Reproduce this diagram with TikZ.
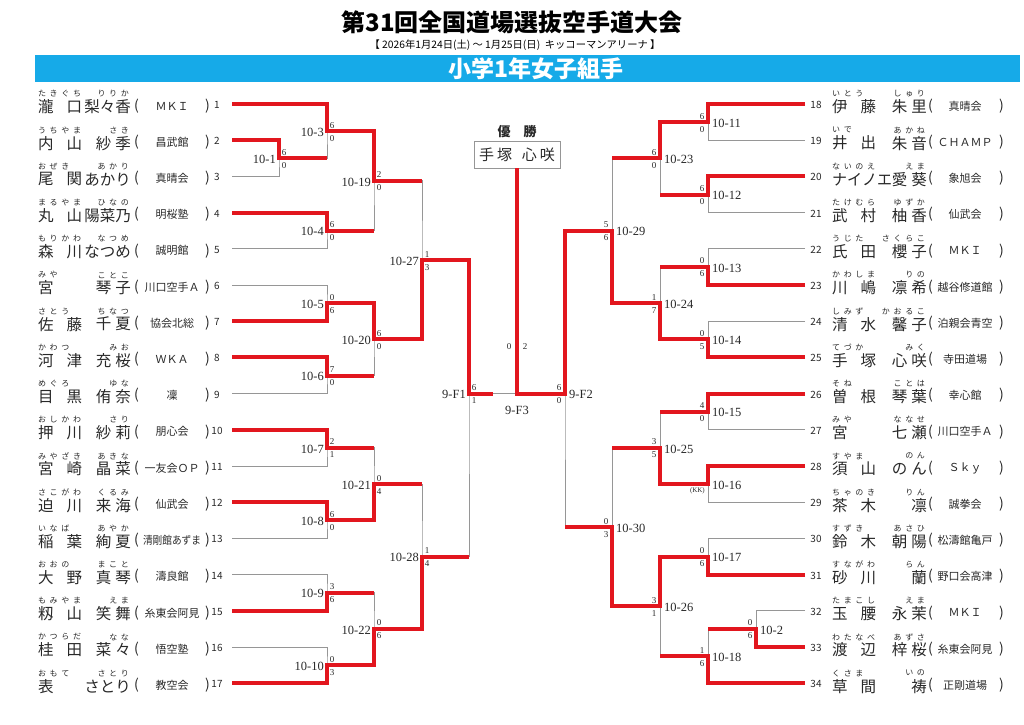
\documentclass[tikz,border=0pt]{standalone}
\usepackage{fontspec}
\usepackage{graphicx}
\setmainfont{Noto Sans CJK JP}
\newfontfamily\sernum{Liberation Serif}
\usetikzlibrary{calc}
\definecolor{wred}{RGB}{226,22,30}
\definecolor{lgray}{RGB}{150,150,150}
\definecolor{barblue}{RGB}{22,170,232}
\definecolor{txt}{RGB}{40,40,40}

\newcount\chcnt
\def\cntloop#1{\ifx#1\relax\else\advance\chcnt by 1\relax\expandafter\cntloop\fi}
\def\sprloop#1{\ifx#1\relax\else\hfil#1\expandafter\sprloop\fi}
\def\spr#1#2\relax{#1\sprloop#2\relax}
\def\fuloop#1{\ifx#1\relax\else\makebox[11.7pt]{#1}\expandafter\fuloop\fi}
\newcommand\furi[1]{\fuloop#1\relax}
\newcommand\surbox[1]{\chcnt=0 \cntloop#1\relax\ifnum\chcnt>2 \resizebox{60pt}{\height}{#1}\else\makebox[44pt][s]{\spr#1\relax}\fi}
\newcommand\givbox[1]{\chcnt=0 \cntloop#1\relax\ifnum\chcnt=2 \makebox[35pt][s]{\spr#1\relax}\else #1\fi}
\newcommand\clubfit[1]{\sbox0{#1}\ifdim\wd0>58pt\relax\resizebox{58pt}{\height}{#1}\else#1\fi}

\tikzset{
  nm/.style={inner sep=0pt, font=\fontsize{15.5}{15.5}\selectfont, text=txt},
  fu/.style={inner sep=0pt, font=\fontsize{8}{8}\selectfont, text=txt},
  pa/.style={inner sep=0pt, font=\fontsize{14}{14}\selectfont, text=txt},
  cl/.style={inner sep=0pt, font=\fontsize{11}{11}\selectfont, text=txt},
  no/.style={inner sep=0pt, font=\fontsize{10}{10}\selectfont, text=txt},
  ml/.style={inner sep=0pt, font=\sernum\fontsize{12.5}{12.5}\selectfont, text=txt},
  sc/.style={inner sep=0pt, font=\sernum\fontsize{9}{9}\selectfont, text=txt},
  gl/.style={draw=lgray, line width=0.9pt},
  win/.style={draw=wred, line width=4pt}
}

\newcommand\PL[6]{%
  \pgfmathsetmacro\py{104+(#1-1)*36.2}%
  \node[nm,anchor=west] (s#1) at (38,\py+3) {\surbox{#2}};
  \node[nm,anchor=east] (g#1) at (131,\py+3) {\givbox{#3}};
  \node[fu,anchor=west] (fs#1) at (36,\py-10) {\furi{#4}};
  \node[fu,anchor=east] (fg#1) at (131,\py-10) {\furi{#5}};
  \node[pa] (lp#1) at (136.5,\py+2) {(};
  \node[cl] (c#1) at (172,\py+2) {\clubfit{#6}};
  \node[pa] (rp#1) at (207.5,\py+2) {)};
  \node[no] (n#1) at (217,\py+1) {#1};
  \coordinate (p#1) at (232,\py);
}
\newcommand\PR[6]{%
  \pgfmathsetmacro\py{104+(#1-18)*36.2}%
  \node[nm,anchor=west] (s#1) at (832,\py+3) {\surbox{#2}};
  \node[nm,anchor=east] (g#1) at (927,\py+3) {\givbox{#3}};
  \node[fu,anchor=west] (fs#1) at (830,\py-10) {\furi{#4}};
  \node[fu,anchor=east] (fg#1) at (927,\py-10) {\furi{#5}};
  \node[pa] (lp#1) at (930.5,\py+2) {(};
  \node[cl] (c#1) at (965,\py+2) {\clubfit{#6}};
  \node[pa] (rp#1) at (1001.5,\py+2) {)};
  \node[no] (n#1) at (816,\py+1) {#1};
  \coordinate (p#1) at (805,\py);
}
\newcommand\ML[6]{%
  \coordinate (#1) at (#3,#4);
  \node[ml,anchor=east] (#1l) at (#3-3,#4+1) {#2};
  \node[sc] (#1t) at (#3+5,#4-6) {#5};
  \node[sc] (#1b) at (#3+5,#4+7) {#6};
}
\newcommand\MR[6]{%
  \coordinate (#1) at (#3,#4);
  \node[ml,anchor=west] (#1l) at (#3+4,#4+1) {#2};
  \node[sc] (#1t) at (#3-6,#4-6) {#5};
  \node[sc] (#1b) at (#3-6,#4+7) {#6};
}

\begin{document}
\begin{tikzpicture}[x=1pt,y=-1pt]
\useasboundingbox (0,0) rectangle (1024,724);

% header
\node[font=\bfseries\fontsize{24}{24}\selectfont, text=black] (title) at (512,22) {第31回全国道場選抜空手道大会};
\node[font=\fontsize{10.3}{10.3}\selectfont, text=black] (sub) at (515,45) {【 2026年1月24日(土) ～ 1月25日(日)\ \ キッコーマンアリーナ 】};
\fill[barblue] (35,55) rectangle (1020,82);
\node[text=white, font=\bfseries\fontsize{23}{23}\selectfont] (cat) at (536,69) {小学1年女子組手};

% players left
\PL{1}{瀧口}{梨々香}{たきぐち}{りりか}{ＭＫＩ}
\PL{2}{内山}{紗季}{うちやま}{さき}{昌武館}
\PL{3}{尾関}{あかり}{おぜき}{あかり}{真晴会}
\PL{4}{丸山}{陽菜乃}{まるやま}{ひなの}{明桜塾}
\PL{5}{森川}{なつめ}{もりかわ}{なつめ}{誠明館}
\PL{6}{宮}{琴子}{みや}{ことこ}{川口空手Ａ}
\PL{7}{佐藤}{千夏}{さとう}{ちなつ}{協会北総}
\PL{8}{河津}{充桜}{かわつ}{みお}{ＷＫＡ}
\PL{9}{目黒}{侑奈}{めぐろ}{ゆな}{凜}
\PL{10}{押川}{紗莉}{おしかわ}{さり}{朋心会}
\PL{11}{宮崎}{晶菜}{みやざき}{あきな}{一友会ＯＰ}
\PL{12}{迫川}{来海}{さこがわ}{くるみ}{仙武会}
\PL{13}{稲葉}{絢夏}{いなば}{あやか}{清剛館あずま}
\PL{14}{大野}{真琴}{おおの}{まこと}{濤良館}
\PL{15}{籾山}{笑舞}{もみやま}{えま}{糸東会阿見}
\PL{16}{桂田}{菜々}{かつらだ}{なな}{悟空塾}
\PL{17}{表}{さとり}{おもて}{さとり}{教空会}
% players right
\PR{18}{伊藤}{朱里}{いとう}{しゅり}{真晴会}
\PR{19}{井出}{朱音}{いで}{あかね}{ＣＨＡＭＰ}
\PR{20}{ナイノエ}{愛葵}{ないのえ}{えま}{象旭会}
\PR{21}{武村}{柚香}{たけむら}{ゆずか}{仙武会}
\PR{22}{氏田}{櫻子}{うじた}{さくらこ}{ＭＫＩ}
\PR{23}{川嶋}{凛希}{かわしま}{りの}{越谷修道館}
\PR{24}{清水}{馨子}{しみず}{かおるこ}{泊親会青空}
\PR{25}{手塚}{心咲}{てづか}{みく}{寺田道場}
\PR{26}{曽根}{琴葉}{そね}{ことは}{幸心館}
\PR{27}{宮}{七瀬}{みや}{ななせ}{川口空手Ａ}
\PR{28}{須山}{のん}{すやま}{のん}{Ｓｋｙ}
\PR{29}{茶木}{凛}{ちゃのき}{りん}{誠拳会}
\PR{30}{鈴木}{朝陽}{すずき}{あさひ}{松濤館亀戸}
\PR{31}{砂川}{蘭}{すながわ}{らん}{野口会高津}
\PR{32}{玉腰}{永茉}{たまこし}{えま}{ＭＫＩ}
\PR{33}{渡辺}{梓桜}{わたなべ}{あずさ}{糸東会阿見}
\PR{34}{草間}{祷}{くさま}{いの}{正剛道場}

% matches left
\ML{m1}{10-1}{279}{158.3}{6}{0}
\ML{m3}{10-3}{327}{131.15}{6}{0}
\ML{m4}{10-4}{327}{230.7}{6}{0}
\ML{m19}{10-19}{374}{180.9}{2}{0}
\ML{m5}{10-5}{327}{303.1}{0}{6}
\ML{m6}{10-6}{327}{375.5}{7}{0}
\ML{m20}{10-20}{374}{339.3}{6}{0}
\ML{m27}{10-27}{422}{260.1}{1}{3}
\ML{m7}{10-7}{327}{447.9}{2}{1}
\ML{m8}{10-8}{327}{520.3}{6}{0}
\ML{m21}{10-21}{374}{484.1}{0}{4}
\ML{m9}{10-9}{327}{592.7}{3}{6}
\ML{m10}{10-10}{327}{665.1}{0}{3}
\ML{m22}{10-22}{374}{628.9}{0}{6}
\ML{m28}{10-28}{422}{556.5}{1}{4}
\ML{f1}{9-F1}{469}{393.6}{6}{1}
\coordinate (f1r) at (493,393.6);
% matches right
\MR{m11}{10-11}{708}{122.1}{6}{0}
\MR{m12}{10-12}{708}{194.5}{6}{0}
\MR{m23}{10-23}{660}{158.3}{6}{0}
\MR{m13}{10-13}{708}{266.9}{0}{6}
\MR{m14}{10-14}{708}{339.3}{0}{5}
\MR{m24}{10-24}{660}{303.1}{1}{7}
\MR{m29}{10-29}{612}{230.7}{5}{6}
\MR{m15}{10-15}{708}{411.7}{4}{0}
\coordinate (m16) at (708,484.1);
\node[ml,anchor=west] (m16l) at (712,485.1) {10-16};
\node[sc,anchor=east,font=\sernum\fontsize{7}{7}\selectfont] (m16b) at (705,491) {(KK)};
\MR{m25}{10-25}{660}{447.9}{3}{5}
\MR{m17}{10-17}{708}{556.5}{0}{6}
\MR{m2}{10-2}{756}{628.9}{0}{6}
\MR{m18}{10-18}{708}{656.05}{1}{6}
\MR{m26}{10-26}{660}{606.3}{3}{1}
\MR{m30}{10-30}{612}{527.1}{0}{3}
\MR{f2}{9-F2}{565}{393.6}{6}{0}
% final
\coordinate (f3) at (517,393.6);
\node[sc] (f3a) at (509,347) {0};
\node[sc] (f3b) at (525,347) {2};
\node[ml] (f3l) at (517,410) {9-F3};
\node[font=\bfseries\fontsize{13}{13}\selectfont, text=txt] (yusho) at (517,132) {優\hspace{13pt}勝};
\node[draw=lgray, line width=0.8pt, minimum width=86, minimum height=27, inner sep=0pt,
      font=\fontsize{15}{15}\selectfont, text=txt] (champ) at (517,154.5) {手\hspace{3pt}塚\hspace{10pt}心\hspace{3pt}咲};

% gray bracket left
\draw[gl] (p2) -| (m1) |- (p3);
\draw[gl] (p1) -| (m3) |- (m1);
\draw[gl] (p4) -| (m4) |- (p5);
\draw[gl] (m3) -| (m19) |- (m4);
\draw[gl] (p6) -| (m5) |- (p7);
\draw[gl] (p8) -| (m6) |- (p9);
\draw[gl] (m5) -| (m20) |- (m6);
\draw[gl] (m19) -| (m27) |- (m20);
\draw[gl] (p10) -| (m7) |- (p11);
\draw[gl] (p12) -| (m8) |- (p13);
\draw[gl] (m7) -| (m21) |- (m8);
\draw[gl] (p14) -| (m9) |- (p15);
\draw[gl] (p16) -| (m10) |- (p17);
\draw[gl] (m9) -| (m22) |- (m10);
\draw[gl] (m21) -| (m28) |- (m22);
\draw[gl] (m27) -| (f1) |- (m28);
% gray bracket right
\draw[gl] (p18) -| (m11) |- (p19);
\draw[gl] (p20) -| (m12) |- (p21);
\draw[gl] (m11) -| (m23) |- (m12);
\draw[gl] (p22) -| (m13) |- (p23);
\draw[gl] (p24) -| (m14) |- (p25);
\draw[gl] (m13) -| (m24) |- (m14);
\draw[gl] (m23) -| (m29) |- (m24);
\draw[gl] (p26) -| (m15) |- (p27);
\draw[gl] (p28) -| (m16) |- (p29);
\draw[gl] (m15) -| (m25) |- (m16);
\draw[gl] (p30) -| (m17) |- (p31);
\draw[gl] (p32) -| (m2) |- (p33);
\draw[gl] (m2) -| (m18) |- (p34);
\draw[gl] (m17) -| (m26) |- (m18);
\draw[gl] (m25) -| (m30) |- (m26);
\draw[gl] (m29) -| (f2) |- (m30);
\draw[gl] (f1) -- (f2);

% winners left
\draw[win] (p1) -| (m3) -| (m19) -- (m19 -| m27);
\draw[win] (p2) -| (m1) -- (m1 -| m3);
\draw[win] (p4) -| (m4) -- (m4 -| m19);
\draw[win] (p7) -| (m5) -| (m20) -| (m27) -| (f1) -- (f1r);
\draw[win] (p8) -| (m6) -- (m6 -| m20);
\draw[win] (p10) -| (m7) -- (m7 -| m21);
\draw[win] (p12) -| (m8) -| (m21) -- (m21 -| m28);
\draw[win] (p15) -| (m9) -- (m9 -| m22);
\draw[win] (p17) -| (m10) -| (m22) -| (m28) -- (m28 -| f1);
% winners right
\draw[win] (p18) -| (m11) -| (m23) -- (m23 -| m29);
\draw[win] (p20) -| (m12) -- (m12 -| m23);
\draw[win] (p23) -| (m13) -- (m13 -| m24);
\draw[win] (p25) -| (m14) -| (m24) -| (m29) -| (f2) -- (f3) -- (champ.south);
\draw[win] (p26) -| (m15) -- (m15 -| m25);
\draw[win] (p28) -| (m16) -| (m25) -- (m25 -| m30);
\draw[win] (p31) -| (m17) -| (m26) -| (m30) -- (m30 -| f2);
\draw[win] (p33) -| (m2) -- (m2 -| m18);
\draw[win] (p34) -| (m18) -- (m18 -| m26);
\end{tikzpicture}
\end{document}
